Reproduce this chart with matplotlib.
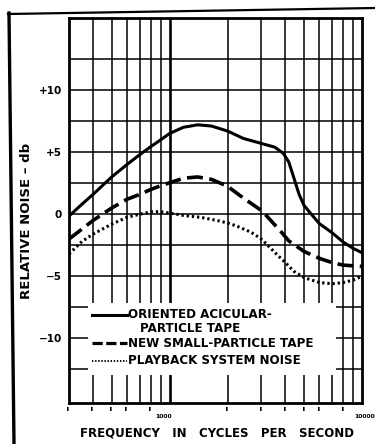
import numpy as np
import matplotlib
matplotlib.use("Agg")
import matplotlib.pyplot as plt
from matplotlib.lines import Line2D
from matplotlib import transforms

# ---- data ----
freq_solid = [300, 350, 400, 500, 600, 700, 800, 900, 1000, 1180, 1400, 1650, 2000, 2420, 3000,
              3520, 3900, 4165, 4430, 4710, 5000, 5420, 6000, 7000, 8000, 9000, 10000]
db_solid = [-0.15, 0.8, 1.6, 3.0, 4.0, 4.8, 5.45, 6.0, 6.5, 7.0, 7.2, 7.1, 6.7, 6.1, 5.7,
            5.4, 4.9, 4.2, 2.9, 1.6, 0.7, 0.05, -0.75, -1.5, -2.25, -2.75, -3.1]

freq_dash = [300, 350, 400, 500, 600, 700, 800, 900, 1030, 1180, 1400, 1655, 2000, 2420, 3000,
             3200, 3790, 4165, 5000, 6000, 7000, 8000, 10000]
db_dash = [-2.0, -1.2, -0.5, 0.5, 1.2, 1.6, 2.0, 2.3, 2.6, 2.9, 3.0, 2.8, 2.25, 1.3, 0.3,
           -0.15, -1.4, -2.15, -3.0, -3.55, -3.9, -4.1, -4.2]

freq_dot = [300, 350, 400, 500, 600, 700, 800, 900, 1000, 1183, 1450, 1760, 2000, 2230, 2650,
            3000, 3165, 3640, 4000, 4430, 5000, 6000, 7000, 8000, 9000, 10000]
db_dot = [-3.2, -2.2, -1.6, -0.8, -0.25, 0.0, 0.2, 0.2, 0.1, -0.1, -0.25, -0.5, -0.7, -0.95, -1.45,
          -2.0, -2.35, -3.3, -3.9, -4.6, -5.1, -5.5, -5.6, -5.5, -5.3, -5.0]

series_labels = ["ORIENTED ACICULAR-", "PARTICLE TAPE", "NEW SMALL-PARTICLE TAPE", "PLAYBACK SYSTEM NOISE"]
ytick_vals = [-10, -5, 0, 5, 10]
ytick_labels = ["\u221210", "\u22125", "0", "+5", "+10"]
xmajor_vals = [1000, 10000]
xmajor_labels = ["1000", "10000"]
xgrid_vals = [400, 500, 600, 700, 800, 900, 2000, 3000, 4000, 5000, 6000, 7000, 8000, 9000]
xmark_vals = [300, 400, 500, 600, 800, 2000, 3000, 4000, 5000, 6000, 8000]

FONT = "DejaVu Sans"

fig = plt.figure(figsize=(3.75, 4.44), dpi=100)
fig.patch.set_facecolor("white")

# page border lines (scan frame)
fig.add_artist(Line2D([9/375, 14/375], [1-13/444, 0], transform=fig.transFigure, color="black", lw=2.4))
fig.add_artist(Line2D([8/375, 375/375], [1-14/444, 1-8/444], transform=fig.transFigure, color="black", lw=1.6))

ax = fig.add_axes([69/375, 1-403/444, 293/375, 385/444])
ax.set_xscale("log")
ax.set_xlim(300, 10000)
ax.set_ylim(-15.2, 15.8)

# grid
for v in xgrid_vals:
    ax.axvline(v, color="black", lw=1.1, zorder=1)
ax.axvline(1000, color="black", lw=1.9, zorder=1)
for h in np.arange(-12.5, 12.6, 2.5):
    ax.axhline(h, color="black", lw=1.1, zorder=1)

for s in ax.spines.values():
    s.set_linewidth(2.0)

# ticks
ax.set_yticks(ytick_vals)
ax.set_yticklabels(ytick_labels, fontfamily=FONT, fontweight="bold", fontsize=7.5)
ax.tick_params(axis="y", length=0, pad=5)
ax.set_xticks([])
ax.set_xticks(xmark_vals, minor=True)
ax.set_xticklabels(["\u258c"] * len(xmark_vals), minor=True, fontsize=3)
ax.tick_params(axis="x", which="both", length=0, pad=3)

xt = ax.get_xaxis_transform()
lab_1000 = transforms.offset_copy(xt, fig=fig, x=-6, y=0, units="dots")
lab_10000 = transforms.offset_copy(xt, fig=fig, x=13, y=0, units="dots")
ax.text(xmajor_vals[0], -0.036, xmajor_labels[0], transform=lab_1000, ha="center", va="center",
        fontfamily=FONT, fontweight="bold", fontsize=4.4, clip_on=False)
ax.text(xmajor_vals[1], -0.036, xmajor_labels[1], transform=lab_10000, ha="right", va="center",
        fontfamily=FONT, fontweight="bold", fontsize=4.4, clip_on=False)

# curves
ax.plot(freq_solid, db_solid, color="black", lw=2.2, solid_joinstyle="round", solid_capstyle="round", zorder=3)
ax.plot(freq_dash, db_dash, color="black", lw=2.6, dashes=(4.4, 1.8), dash_joinstyle="round", zorder=3)
ax.plot(freq_dot, db_dot, color="black", lw=2.2, dashes=(0.75, 0.95), dash_capstyle="butt", zorder=3)

# legend block (white box hiding grid)
ax.add_patch(plt.Rectangle((0.065, 0.0727), 0.846, 0.187, transform=ax.transAxes,
                           facecolor="white", edgecolor="none", zorder=2))
lx0, lx1, tx = 0.0785, 0.198, 0.2014
ys = [0.2286, 0.1558, 0.1091]
ax.add_line(Line2D([lx0, lx1], [ys[0]] * 2, transform=ax.transAxes, color="black", lw=2.2, zorder=4))
ax.add_line(Line2D([lx0, lx1], [ys[1]] * 2, transform=ax.transAxes, color="black", lw=2.3, dashes=(3.2, 1.1), zorder=4))
ax.add_line(Line2D([lx0, lx1], [ys[2]] * 2, transform=ax.transAxes, color="black", lw=1.4, dashes=(0.7, 0.9), zorder=4))
tkw = dict(transform=ax.transAxes, fontfamily=FONT, fontweight="bold", fontsize=8.6, va="center", zorder=4)
ax.text(tx, ys[0], series_labels[0], ha="left", **tkw)
ax.text(0.413, 0.1948, series_labels[1], ha="center", **tkw)
ax.text(tx, ys[1], series_labels[2], ha="left", **tkw)
ax.text(tx, ys[2], series_labels[3], ha="left", **tkw)

# axis labels
fig.text(27/375, 1-221/444, "RELATIVE NOISE \u2013 db", rotation=90, ha="center", va="center",
         fontfamily=FONT, fontweight="bold", fontsize=9.5)
fig.text(217/375, 1-433/444, "FREQUENCY   IN   CYCLES   PER   SECOND", ha="center", va="center",
         fontfamily=FONT, fontweight="bold", fontsize=8.5)

fig.savefig("out.png", dpi=100)
